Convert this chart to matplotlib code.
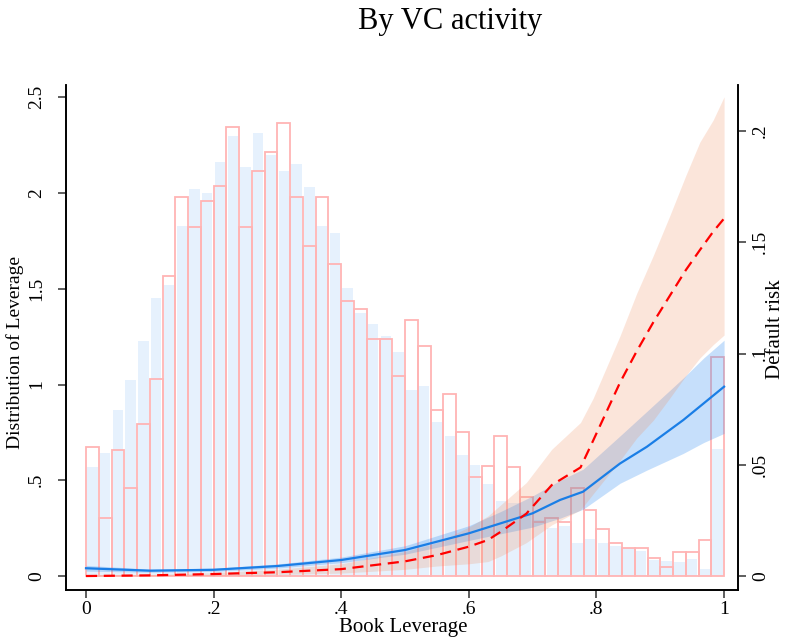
import numpy as np
import matplotlib
matplotlib.use("Agg")
import matplotlib.pyplot as plt

plt.rcParams['font.family'] = ['Liberation Serif', 'DejaVu Serif']

# histogram of book leverage, 50 bins on [0, 1]
edges = np.linspace(0, 1, 51)
vc_density = [0.675, 0.305, 0.658, 0.461, 0.792, 1.027, 1.568, 1.979, 1.824, 1.960,
              2.037, 2.346, 1.824, 2.115, 2.212, 2.367, 1.977, 1.725, 1.977, 1.628,
              1.434, 1.393, 1.239, 1.239, 1.044, 1.337, 1.199, 0.869, 0.949, 0.754,
              0.519, 0.576, 0.733, 0.570, 0.414, 0.284, 0.305, 0.284, 0.461, 0.345,
              0.245, 0.171, 0.148, 0.148, 0.092, 0.049, 0.127, 0.127, 0.188, 1.142]
nonvc_density = [0.571, 0.644, 0.867, 1.023, 1.227, 1.452, 1.520, 1.829, 2.021, 1.998,
                 2.164, 2.300, 2.134, 2.315, 2.200, 2.115, 2.151, 2.031, 1.829, 1.791,
                 1.504, 1.373, 1.316, 1.252, 1.170, 0.971, 0.992, 0.806, 0.731, 0.632,
                 0.580, 0.480, 0.393, 0.380, 0.330, 0.290, 0.250, 0.260, 0.174, 0.193,
                 0.171, 0.157, 0.148, 0.132, 0.083, 0.078, 0.075, 0.089, 0.037, 0.663]

# default risk, non-VC (solid blue) with CI
blue_x = [0, .1, .2, .3, .4, .5, .6, .65, .7, .743, .779, .837, .879, .936, .968, 1.0]
blue_mid = [.0035, .0024, .0028, .0045, .0072, .0117, .0192, .0237, .0282, .0342,
            .0379, .0506, .0581, .0701, .0776, .0851]
blue_lo = [.0022, .0017, .0021, .0036, .0060, .0098, .0160, .0190, .0220, .0260,
           .0300, .0417, .0476, .0551, .0600, .0641]
blue_hi = [.0048, .0031, .0035, .0054, .0085, .0136, .0226, .0290, .0360, .0430,
           .0480, .0630, .0740, .0890, .0980, .1060]

# default risk, VC (dashed red) with CI
red_x = [0, .1, .2, .3, .4, .5, .55, .6, .63, .65, .69, .73, .775, .795, .837, .863,
         .889, .915, .94, .962, .983, 1.0]
red_mid = [0, .0003, .0009, .0017, .0031, .0066, .0094, .0132, .0162, .0199, .0280,
           .0409, .0488, .0610, .0870, .1010, .1140, .1260, .1375, .1465, .1548, .1607]
red_lo = [0, .0001, .0003, .0007, .0013, .0030, .0045, .0055, .0065, .0090, .0150,
          .0230, .0297, .0370, .0520, .0620, .0700, .0800, .0900, .0980, .1040, .1083]
red_hi = [.0005, .0007, .0015, .0030, .0055, .0110, .0150, .0220, .0270, .0320, .0420,
          .0570, .0690, .0800, .1080, .1270, .1440, .1620, .1800, .1950, .2050, .2154]

fig = plt.figure(figsize=(7.86, 6.43), dpi=100)
ax = fig.add_axes([0.084, 0.0824, 0.855, 0.7854])

centers = (edges[:-1] + edges[1:]) / 2
ax.bar(centers, nonvc_density, width=0.0163, color='#e6f1fd', linewidth=0)
ax.bar(centers, vc_density, width=0.02, facecolor='none', edgecolor='#ffb4b4', linewidth=1.3)

ax.set_xlim(-0.0313, 1.0219)
ax.set_ylim(-0.073, 2.564)
ax.set_yticks([0, .5, 1, 1.5, 2, 2.5])
ax.set_yticklabels(['0', '.5', '1', '1.5', '2', '2.5'], rotation=90, va='center')
ax.set_xticks([0, .2, .4, .6, .8, 1])
ax.set_xticklabels(['0', '.2', '.4', '.6', '.8', '1'])
ax.set_xlabel('Book Leverage', fontsize=15, va='center')
ax.xaxis.set_label_coords(0.502, -0.075)
ax.set_ylabel('Distribution of Leverage', fontsize=14, va='center')
ax.yaxis.set_label_coords(-0.076, 0.471)

ax2 = ax.twinx()
ax2.fill_between(blue_x, blue_lo, blue_hi, color='#1e82f0', alpha=0.25, linewidth=0)
ax2.fill_between(red_x, red_lo, red_hi, color='#f08a5a', alpha=0.22, linewidth=0)
ax2.plot(blue_x, blue_mid, color='#1a7ee6', linewidth=1.6)
ax2.plot(red_x, red_mid, color='#ff0000', linewidth=1.6, dashes=(5, 3))
ax2.set_ylim(-0.00629, 0.2207)
ax2.set_yticks([0, .05, .1, .15, .2])
ax2.set_yticklabels(['0', '.05', '.1', '.15', '.2'], rotation=90, va='center')
ax2.set_ylabel('Default risk', fontsize=15, va='center')
ax2.yaxis.set_label_coords(1.056, 0.517)

for a in (ax, ax2):
    a.spines['top'].set_visible(False)
    for s in a.spines.values():
        s.set_linewidth(1.2)
    a.tick_params(direction='out', length=6, width=1.1, color='#333333', labelsize=14)
ax.tick_params(axis='y', pad=9)
ax.tick_params(axis='x', pad=2)
ax2.tick_params(axis='y', pad=4)

fig.text(0.5725, 0.966, 'By VC activity', ha='center', va='center', fontsize=22)

fig.savefig('out.png', dpi=100)
